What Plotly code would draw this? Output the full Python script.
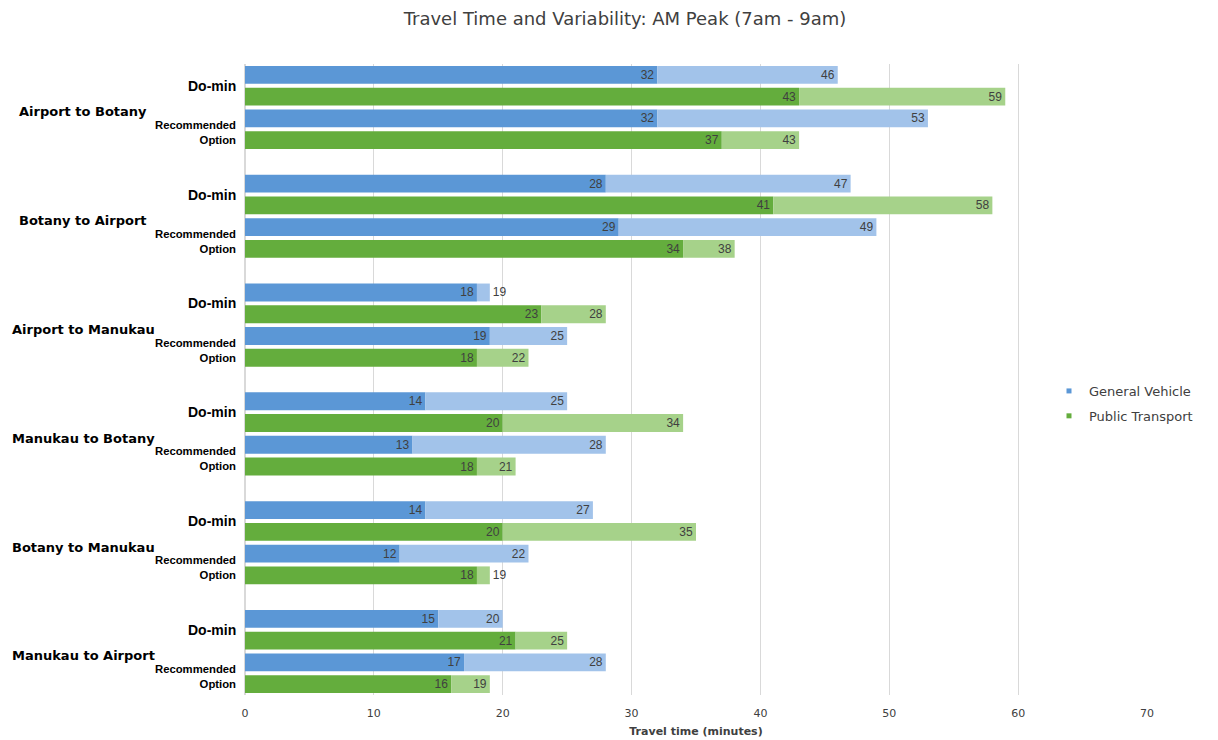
import plotly.graph_objects as go

# ---------------- data ----------------
groups = ["Airport to Botany", "Botany to Airport", "Airport to Manukau",
          "Manukau to Botany", "Botany to Manukau", "Manukau to Airport"]
scenarios = ["Do-min", "Recommended<br>Option"]

gv_domin_mean = [32, 28, 18, 14, 14, 15]
gv_domin_high = [46, 47, 19, 25, 27, 20]
pt_domin_mean = [43, 41, 23, 20, 20, 21]
pt_domin_high = [59, 58, 28, 34, 35, 25]
gv_rec_mean = [32, 29, 19, 13, 12, 17]
gv_rec_high = [53, 49, 25, 28, 22, 28]
pt_rec_mean = [37, 34, 18, 18, 18, 16]
pt_rec_high = [43, 38, 22, 21, 19, 19]

x_ticks = [0, 10, 20, 30, 40, 50, 60, 70]

title = "Travel Time and Variability: AM Peak (7am - 9am)"
x_title = "Travel time (minutes)"
legend_names = ["General Vehicle", "Public Transport"]

# ---------------- styles ----------------
FONT = "Liberation Sans, Arial, sans-serif"
WIDE = "DejaVu Sans, Verdana, sans-serif"
GV_DARK, GV_LIGHT = "#5b97d6", "#a2c3ea"
PT_DARK, PT_LIGHT = "#64ad3d", "#a6d28a"
TXT = "#404040"
SLOTS = 5  # 4 bars + 1 gap per group
PLOT_W = 902

def rows(offset):
    return [g * SLOTS + offset for g in range(len(groups))]

fig = go.Figure()

def add_pair(mean_a, high_a, off_a, mean_b, high_b, off_b, dark, light):
    ys = rows(off_a) + rows(off_b)
    means = mean_a + mean_b
    highs = high_a + high_b
    fig.add_trace(go.Bar(
        y=ys, x=means, orientation="h", marker=dict(color=dark, line_width=0),
        text=[str(v) for v in means], textposition="inside", insidetextanchor="end",
        textangle=0,
        textfont=dict(size=12, color=TXT, family=FONT), width=0.82,
        showlegend=False, hoverinfo="x"))
    widths = [h - m for h, m in zip(highs, means)]
    fig.add_trace(go.Bar(
        y=ys, x=widths, base=means, orientation="h",
        marker=dict(color=light, line_width=0),
        text=[str(v) for v in highs],
        textposition=["outside" if w <= 1 else "inside" for w in widths],
        insidetextanchor="end", cliponaxis=False, textangle=0,
        textfont=dict(size=12, color=TXT, family=FONT), width=0.82,
        showlegend=False, hoverinfo="x"))

add_pair(gv_domin_mean, gv_domin_high, 0, gv_rec_mean, gv_rec_high, 2, GV_DARK, GV_LIGHT)
add_pair(pt_domin_mean, pt_domin_high, 1, pt_rec_mean, pt_rec_high, 3, PT_DARK, PT_LIGHT)

# legend-only traces
for name, col in zip(legend_names, [GV_DARK, PT_DARK]):
    fig.add_trace(go.Scatter(x=[None], y=[None], mode="markers", name=name,
                             legendgroup=name,
                             marker=dict(symbol="square", size=5, color=col)))

annotations = []
for g, name in enumerate(groups):
    annotations.append(dict(xref="paper", yref="y", x=-162 / PLOT_W, y=g * SLOTS + 1.7,
                            text="<b>%s</b>" % name, showarrow=False,
                            xanchor="center", yanchor="middle",
                            font=dict(size=13, color="#000000", family=WIDE)))
    annotations.append(dict(xref="paper", yref="y", x=-7 / PLOT_W, y=g * SLOTS + 0.5,
                            text="<b>%s</b>" % scenarios[0], showarrow=False,
                            xanchor="right", yanchor="middle",
                            font=dict(size=14, color="#000000", family=FONT)))
    annotations.append(dict(xref="paper", yref="y", x=-7 / PLOT_W, y=g * SLOTS + 2.65,
                            text="<b>%s</b>" % scenarios[1], showarrow=False,
                            xanchor="right", yanchor="middle", align="right",
                            font=dict(size=11.3, color="#000000", family=FONT)))

n_rows = len(groups) * SLOTS - 1
fig.update_layout(
    width=1218, height=740,
    margin=dict(l=237, r=79, t=56, b=53),
    paper_bgcolor="white", plot_bgcolor="white",
    barmode="overlay",
    uniformtext=dict(minsize=12, mode="show"),
    font=dict(family=FONT, color=TXT, size=10),
    title=dict(text=title, x=617 / 1218, xanchor="center", y=1 - 11 / 740, yanchor="middle",
               font=dict(size=18, color=TXT, family=WIDE)),
    xaxis=dict(range=[0, 70], tickvals=x_ticks, showgrid=True, gridcolor="#d9d9d9",
               gridwidth=1, zeroline=True, zerolinecolor="#d9d9d9", showline=False,
               ticks="", ticklabelstandoff=10, tickfont=dict(size=11, color=TXT, family=WIDE),
               title=dict(text="<b>%s</b>" % x_title, standoff=8,
                          font=dict(size=11, color=TXT, family=WIDE))),
    yaxis=dict(range=[n_rows - 0.5, -0.5], showticklabels=False, showgrid=False,
               zeroline=False, ticks=""),
    legend=dict(x=(1049 - 245) / PLOT_W, y=0.462, xanchor="left", yanchor="middle",
                tracegroupgap=5,
                font=dict(size=13, color=TXT, family=WIDE), itemwidth=30,
                bgcolor="rgba(0,0,0,0)"),
    annotations=annotations,
)

fig.write_html("out.html")
